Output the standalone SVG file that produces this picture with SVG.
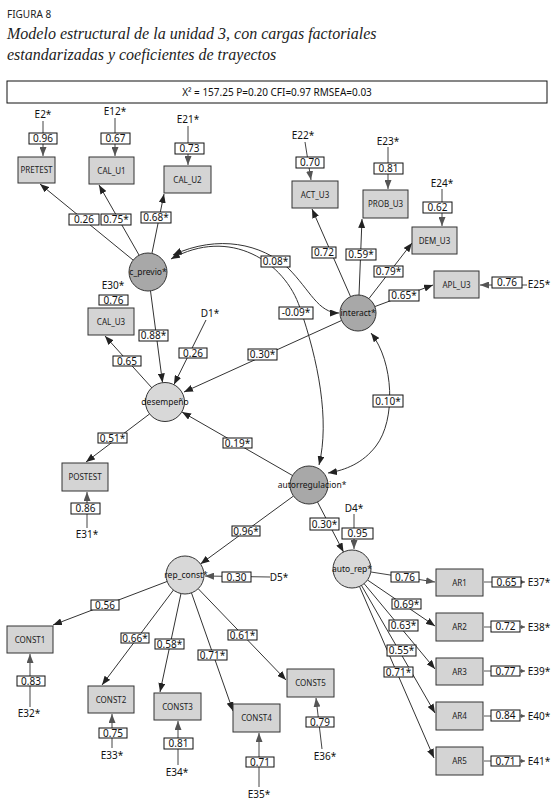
<svg xmlns="http://www.w3.org/2000/svg" width="555" height="805" viewBox="0 0 555 805">
<style>
.bg{fill:#fff}
.ind{fill:#d4d4d4;stroke:#333;stroke-width:1}
.lat{fill:#a8a8a8;stroke:#333;stroke-width:1}
.latl{fill:#d8d8d8;stroke:#333;stroke-width:1}
.nt{font-family:"Noto Sans","DejaVu Sans",sans-serif;font-size:8px;fill:#222;text-anchor:middle}
.ct{font-family:"Noto Sans","DejaVu Sans",sans-serif;font-size:8.5px;fill:#111;text-anchor:middle}
.et{font-family:"Noto Sans","DejaVu Sans",sans-serif;font-size:10px;fill:#111;text-anchor:middle}
.lb rect{fill:#fff;stroke:#111;stroke-width:1}
.lb text{font-family:"Noto Sans","DejaVu Sans",sans-serif;font-size:10px;fill:#111;text-anchor:middle}
.c{fill:none;stroke:#333;stroke-width:1;marker-end:url(#ah)}
.e{fill:none;stroke:#444;stroke-width:1;marker-end:url(#ag)}
.s{fill:none;stroke:#555;stroke-width:1;marker-end:url(#as)}
.d{fill:none;stroke:#333;stroke-width:1;marker-start:url(#ah);marker-end:url(#ah)}
</style>
<defs>
<marker id="ah" viewBox="0 0 9 7" refX="9" refY="3.5" markerWidth="9" markerHeight="7" markerUnits="userSpaceOnUse" orient="auto-start-reverse"><path d="M0,0 L9,3.5 L0,7 z" fill="#222"/></marker>
<marker id="ag" viewBox="0 0 9 7" refX="9" refY="3.5" markerWidth="9" markerHeight="7" markerUnits="userSpaceOnUse" orient="auto"><path d="M0,0 L9,3.5 L0,7 z" fill="#555"/></marker>
<marker id="as" viewBox="0 0 4 4" refX="4" refY="2" markerWidth="4" markerHeight="4" markerUnits="userSpaceOnUse" orient="auto"><path d="M0,0 L4,2 L0,4 z" fill="#555"/></marker>
</defs>
<rect class="bg" x="0" y="0" width="555" height="805"/>

<g id="header">
<text x="7" y="18" font-family="Noto Sans,DejaVu Sans,sans-serif" font-size="10" fill="#222">FIGURA 8</text>
<text x="7" y="39" font-family="Liberation Serif,serif" font-style="italic" font-size="16" fill="#222">Modelo estructural de la unidad 3, con cargas factoriales</text>
<text x="7" y="60" font-family="Liberation Serif,serif" font-style="italic" font-size="16" fill="#222">estandarizadas y coeficientes de trayectos</text>
<rect x="7" y="81" width="540" height="22" fill="#fff" stroke="#111" stroke-width="1"/>
<text x="277" y="96" font-family="Noto Sans,DejaVu Sans,sans-serif" font-size="10" fill="#111" text-anchor="middle">X² = 157.25 P=0.20 CFI=0.97 RMSEA=0.03</text>
</g>

<g id="connectors">
<!-- c_previo loadings -->
<line class="c" x1="133" y1="260" x2="40" y2="184"/>
<line class="c" x1="139" y1="255" x2="99" y2="185"/>
<line class="c" x1="152" y1="253" x2="164" y2="194"/>
<line class="c" x1="150.5" y1="291" x2="162.5" y2="382.5"/>
<!-- interact loadings -->
<line class="c" x1="350.5" y1="296.5" x2="312" y2="209"/>
<line class="c" x1="359" y1="295" x2="362" y2="219"/>
<line class="c" x1="369" y1="298.5" x2="412" y2="243"/>
<line class="c" x1="375" y1="306.5" x2="433" y2="285"/>
<line class="c" x1="341.5" y1="320.5" x2="184" y2="392"/>
<!-- desempeno -->
<line class="c" x1="152" y1="388" x2="105" y2="336"/>
<line class="c" x1="149.5" y1="414" x2="86" y2="462"/>
<line class="c" x1="206" y1="320" x2="174" y2="384.5"/>
<line class="c" x1="292.5" y1="475.5" x2="182" y2="412"/>
<!-- autorregulacion -->
<line class="c" x1="293.5" y1="496" x2="200.5" y2="564"/>
<line class="c" x1="317.5" y1="502" x2="343.5" y2="552"/>
<!-- rep_const -->
<line class="c" x1="167" y1="581.5" x2="53" y2="625"/>
<line class="c" x1="173.5" y1="590" x2="102" y2="685"/>
<line class="c" x1="181" y1="593.5" x2="160" y2="692"/>
<line class="c" x1="191.5" y1="593" x2="233" y2="711"/>
<line class="c" x1="198" y1="588.5" x2="286" y2="680"/>
<line class="e" x1="270" y1="577" x2="205" y2="576"/>
<!-- auto_rep -->
<line class="e" x1="371" y1="572" x2="435" y2="582"/>
<line class="c" x1="367.5" y1="580" x2="435" y2="626"/>
<line class="c" x1="364" y1="583.5" x2="435" y2="669"/>
<line class="c" x1="361.5" y1="585.5" x2="435" y2="713"/>
<line class="c" x1="359.5" y1="586.5" x2="434" y2="758"/>
<line class="e" x1="354" y1="514" x2="354" y2="549"/>
<!-- covariances -->
<path class="d" d="M173,255 C218,234 262,244 288,268 C310,290 318,313 339,313"/>
<path class="d" d="M171,259 C230,226 285,262 300,308 C318,360 330,420 319,465"/>
<path class="d" d="M371,333 C394,362 396,420 376,446 C363,463 346,470 328,473"/>
<!-- error terms -->
<line class="e" x1="43" y1="121" x2="43" y2="156"/>
<line class="e" x1="115" y1="118" x2="115" y2="156"/>
<line class="e" x1="188" y1="126" x2="188" y2="165"/>
<line class="e" x1="305" y1="142" x2="311" y2="180"/>
<line class="e" x1="388" y1="147" x2="388" y2="189"/>
<line class="e" x1="442" y1="189" x2="442" y2="226"/>
<line class="e" x1="527" y1="285" x2="480" y2="285"/>
<line class="e" x1="87" y1="528" x2="87" y2="492"/>
<line class="e" x1="30" y1="707" x2="30" y2="654"/>
<line class="e" x1="112" y1="748" x2="112" y2="714"/>
<line class="e" x1="178" y1="765" x2="178" y2="721"/>
<line class="e" x1="259" y1="787" x2="259" y2="733"/>
<line class="e" x1="322" y1="749" x2="316" y2="698"/>
<line class="s" x1="484" y1="582" x2="525" y2="582"/>
<line class="s" x1="484" y1="627" x2="525" y2="627"/>
<line class="s" x1="484" y1="671" x2="525" y2="671"/>
<line class="s" x1="484" y1="716" x2="525" y2="716"/>
<line class="s" x1="484" y1="761" x2="525" y2="761"/>
</g>

<g id="PRETEST"><rect class="ind" x="18" y="157" width="37" height="26"/><text class="nt" x="36.5" y="173">PRETEST</text></g>
<g id="CAL_U1"><rect class="ind" x="89" y="157" width="45" height="27"/><text class="nt" x="111.5" y="173.5">CAL_U1</text></g>
<g id="CAL_U2"><rect class="ind" x="164" y="166" width="47" height="27"/><text class="nt" x="187.5" y="182.5">CAL_U2</text></g>
<g id="ACT_U3"><rect class="ind" x="292" y="181" width="46" height="27"/><text class="nt" x="315" y="197.5">ACT_U3</text></g>
<g id="PROB_U3"><rect class="ind" x="363" y="190" width="45" height="28"/><text class="nt" x="385.5" y="207">PROB_U3</text></g>
<g id="DEM_U3"><rect class="ind" x="412" y="227" width="45" height="27"/><text class="nt" x="434.5" y="243.5">DEM_U3</text></g>
<g id="APL_U3"><rect class="ind" x="434" y="271" width="45" height="27"/><text class="nt" x="456.5" y="287.5">APL_U3</text></g>
<g id="CAL_U3"><rect class="ind" x="88" y="308" width="46" height="27"/><text class="nt" x="111" y="324.5">CAL_U3</text></g>
<g id="POSTEST"><rect class="ind" x="62" y="463" width="46" height="28"/><text class="nt" x="85" y="480">POSTEST</text></g>
<g id="CONST1"><rect class="ind" x="7" y="626" width="46" height="27"/><text class="nt" x="30" y="642.5">CONST1</text></g>
<g id="CONST2"><rect class="ind" x="88" y="686" width="46" height="27"/><text class="nt" x="111" y="702.5">CONST2</text></g>
<g id="CONST3"><rect class="ind" x="154" y="693" width="47" height="27"/><text class="nt" x="177.5" y="709.5">CONST3</text></g>
<g id="CONST4"><rect class="ind" x="233" y="704" width="47" height="28"/><text class="nt" x="256.5" y="721">CONST4</text></g>
<g id="CONST5"><rect class="ind" x="287" y="669" width="47" height="28"/><text class="nt" x="310.5" y="686">CONST5</text></g>
<g id="AR1"><rect class="ind" x="436" y="569" width="47" height="27"/><text class="nt" x="459.5" y="585.5">AR1</text></g>
<g id="AR2"><rect class="ind" x="436" y="613" width="47" height="28"/><text class="nt" x="459.5" y="630">AR2</text></g>
<g id="AR3"><rect class="ind" x="436" y="658" width="47" height="27"/><text class="nt" x="459.5" y="674.5">AR3</text></g>
<g id="AR4"><rect class="ind" x="436" y="702" width="47" height="28"/><text class="nt" x="459.5" y="719">AR4</text></g>
<g id="AR5"><rect class="ind" x="436" y="747" width="47" height="28"/><text class="nt" x="459.5" y="764">AR5</text></g>

<g id="c_previo"><circle class="lat" cx="148" cy="272" r="19"/><text class="ct" x="148" y="275">c_previo*</text></g>
<g id="interact"><circle class="lat" cx="358" cy="313" r="18"/><text class="ct" x="358" y="316">interact*</text></g>
<g id="desempeno"><circle class="latl" cx="165" cy="402" r="19.5"/><text class="ct" x="165" y="405">desempeño</text></g>
<g id="autorregulacion"><circle class="lat" cx="309" cy="485" r="19"/><text class="ct" x="312" y="488">autorregulacion*</text></g>
<g id="rep_const"><circle class="latl" cx="185" cy="575" r="19"/><text class="ct" x="186" y="578">rep_const*</text></g>
<g id="auto_rep"><circle class="latl" cx="352" cy="569" r="19"/><text class="ct" x="352" y="572">auto_rep*</text></g>

<g id="errors">
<text class="et" x="43" y="118">E2*</text>
<text class="et" x="115" y="115">E12*</text>
<text class="et" x="188" y="123">E21*</text>
<text class="et" x="303" y="139">E22*</text>
<text class="et" x="388" y="145">E23*</text>
<text class="et" x="442" y="187">E24*</text>
<text class="et" x="539" y="288">E25*</text>
<text class="et" x="113" y="289">E30*</text>
<text class="et" x="210" y="317">D1*</text>
<text class="et" x="87" y="538">E31*</text>
<text class="et" x="279" y="581">D5*</text>
<text class="et" x="354" y="512">D4*</text>
<text class="et" x="539" y="586">E37*</text>
<text class="et" x="539" y="631">E38*</text>
<text class="et" x="539" y="675">E39*</text>
<text class="et" x="539" y="720">E40*</text>
<text class="et" x="539" y="765">E41*</text>
<text class="et" x="29" y="717">E32*</text>
<text class="et" x="112" y="759">E33*</text>
<text class="et" x="177" y="776">E34*</text>
<text class="et" x="259" y="798">E35*</text>
<text class="et" x="325" y="760">E36*</text>
</g>

<g id="labels" class="lb">
<rect x="29" y="133" width="28" height="11"/><text x="43" y="142">0.96</text>
<rect x="101" y="133" width="29" height="11"/><text x="115.5" y="142">0.67</text>
<rect x="175" y="143" width="29" height="11"/><text x="189.5" y="152">0.73</text>
<rect x="296" y="157" width="28" height="11"/><text x="310" y="166">0.70</text>
<rect x="374" y="163" width="29" height="11"/><text x="388.5" y="172">0.81</text>
<rect x="423" y="202" width="29" height="11"/><text x="437.5" y="211">0.62</text>
<rect x="492" y="277" width="30" height="11"/><text x="507" y="286">0.76</text>
<rect x="69" y="214" width="30" height="11"/><text x="84" y="223">0.26</text>
<rect x="101" y="214" width="30" height="11"/><text x="116" y="223">0.75*</text>
<rect x="141" y="212" width="30" height="11"/><text x="156" y="221">0.68*</text>
<rect x="312" y="247" width="24" height="11"/><text x="324" y="256">0.72</text>
<rect x="346" y="249" width="30" height="11"/><text x="361" y="258">0.59*</text>
<rect x="374" y="266" width="29" height="11"/><text x="388.5" y="275">0.79*</text>
<rect x="389" y="290" width="30" height="11"/><text x="404" y="299">0.65*</text>
<rect x="261" y="256" width="29" height="11"/><text x="275.5" y="265">0.08*</text>
<rect x="279" y="307" width="34" height="12"/><text x="296" y="316">-0.09*</text>
<rect x="99" y="295" width="29" height="10"/><text x="113.5" y="303.5">0.76</text>
<rect x="139" y="330" width="29" height="11"/><text x="153.5" y="339">0.88*</text>
<rect x="179" y="348" width="28" height="10"/><text x="193" y="356.5">0.26</text>
<rect x="113" y="356" width="28" height="10"/><text x="127" y="364.5">0.65</text>
<rect x="248" y="349" width="29" height="11"/><text x="262.5" y="358">0.30*</text>
<rect x="373" y="395" width="30" height="12"/><text x="388" y="404.5">0.10*</text>
<rect x="98" y="433" width="29" height="10"/><text x="112.5" y="441.5">0.51*</text>
<rect x="223" y="438" width="29" height="10"/><text x="237.5" y="446.5">0.19*</text>
<rect x="71" y="503" width="29" height="11"/><text x="85.5" y="512">0.86</text>
<rect x="232" y="526" width="28" height="10"/><text x="246" y="534.5">0.96*</text>
<rect x="222" y="572" width="29" height="10"/><text x="236.5" y="580.5">0.30</text>
<rect x="310" y="518" width="29" height="12"/><text x="324.5" y="527.5">0.30*</text>
<rect x="342" y="528" width="31" height="11"/><text x="357.5" y="537">0.95</text>
<rect x="391" y="572" width="28" height="10"/><text x="405" y="580.5">0.76</text>
<rect x="492" y="577" width="29" height="10"/><text x="506.5" y="585.5">0.65</text>
<rect x="392" y="599" width="29" height="10"/><text x="406.5" y="607.5">0.69*</text>
<rect x="389" y="620" width="29" height="11"/><text x="403.5" y="629">0.63*</text>
<rect x="387" y="645" width="29" height="11"/><text x="401.5" y="654">0.55*</text>
<rect x="384" y="667" width="29" height="10"/><text x="398.5" y="675.5">0.71*</text>
<rect x="491" y="621" width="29" height="11"/><text x="505.5" y="630">0.72</text>
<rect x="491" y="666" width="29" height="10"/><text x="505.5" y="674.5">0.77</text>
<rect x="491" y="710" width="29" height="11"/><text x="505.5" y="719">0.84</text>
<rect x="491" y="756" width="29" height="10"/><text x="505.5" y="764.5">0.71</text>
<rect x="91" y="600" width="28" height="10"/><text x="105" y="608.5">0.56</text>
<rect x="121" y="633" width="28" height="10"/><text x="135" y="641.5">0.66*</text>
<rect x="155" y="639" width="29" height="10"/><text x="169.5" y="647.5">0.58*</text>
<rect x="198" y="650" width="29" height="10"/><text x="212.5" y="658.5">0.71*</text>
<rect x="228" y="630" width="29" height="10"/><text x="242.5" y="638.5">0.61*</text>
<rect x="17" y="676" width="28" height="10"/><text x="31" y="684.5">0.83</text>
<rect x="99" y="728" width="28" height="10"/><text x="113" y="736.5">0.75</text>
<rect x="164" y="738" width="29" height="11"/><text x="178.5" y="747">0.81</text>
<rect x="246" y="757" width="28" height="10"/><text x="260" y="765.5">0.71</text>
<rect x="306" y="717" width="28" height="10"/><text x="320" y="725.5">0.79</text>
</g>
</svg>
